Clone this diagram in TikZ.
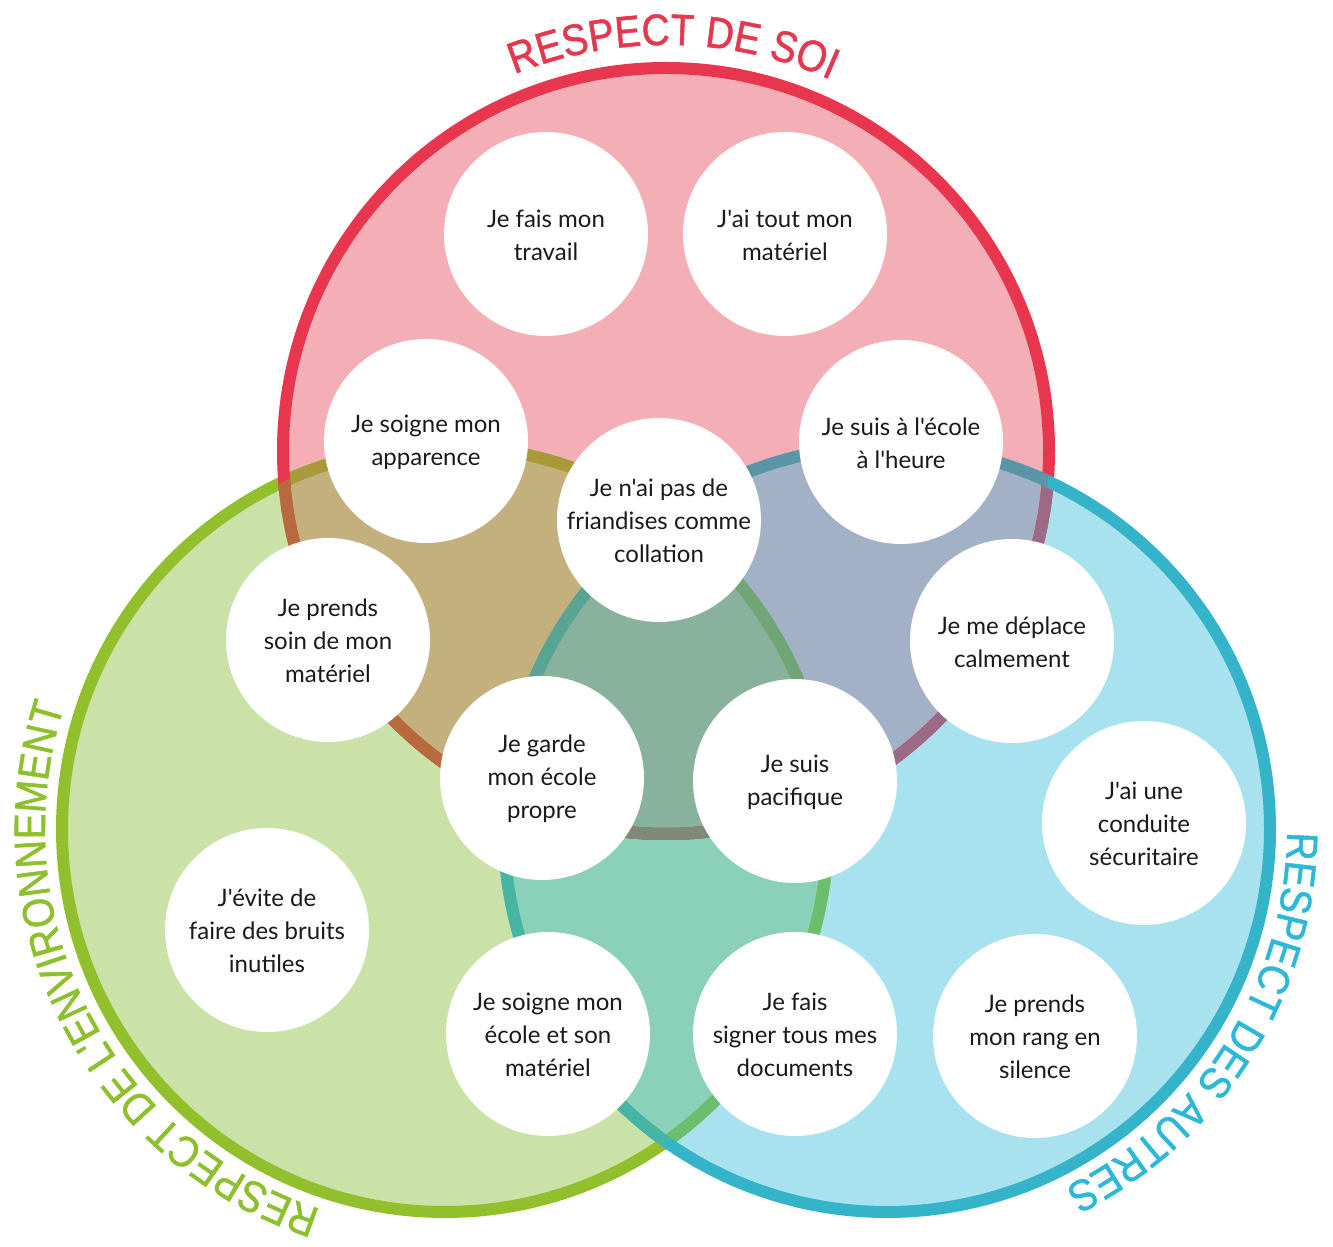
\documentclass[tikz,border=0pt]{standalone}
\usepackage{fontspec}
\usetikzlibrary{decorations.text,calc}
\newfontfamily\bodyfont{Lato}
\newfontfamily\titlefont[FakeStretch=0.88,FakeBold=1.2]{Liberation Sans}
\definecolor{pinkF}{RGB}{244,174,181}
\definecolor{greenF}{RGB}{202,226,168}
\definecolor{blueF}{RGB}{169,226,239}
\definecolor{rgF}{RGB}{196,176,124}
\definecolor{rbF}{RGB}{163,177,198}
\definecolor{gbF}{RGB}{139,209,186}
\definecolor{rgbF}{RGB}{136,178,158}
\definecolor{redS}{RGB}{232,54,78}
\definecolor{redInG}{RGB}{185,105,62}
\definecolor{redInB}{RGB}{155,106,133}
\definecolor{redInGB}{RGB}{127,137,117}
\definecolor{greenS}{RGB}{146,192,45}
\definecolor{greenInR}{RGB}{168,154,56}
\definecolor{greenInB}{RGB}{107,190,110}
\definecolor{greenInRB}{RGB}{112,165,118}
\definecolor{blueS}{RGB}{53,179,201}
\definecolor{blueInR}{RGB}{90,150,168}
\definecolor{blueInG}{RGB}{70,181,163}
\definecolor{blueInRG}{RGB}{88,165,148}
\definecolor{redT}{RGB}{229,56,79}
\definecolor{greenT}{RGB}{141,192,44}
\definecolor{blueT}{RGB}{45,184,218}
\definecolor{txtC}{RGB}{26,26,26}
\begin{document}
\begin{tikzpicture}[x=1pt,y=1pt,
  ring/.style={line width=12pt},
  bubble/.style={circle,fill=white,minimum size=204pt,inner sep=0pt},
  lbl/.style={align=center,text=txtC,font=\bodyfont\fontsize{24}{33}\selectfont,inner sep=0pt}]
\useasboundingbox (0,0) rectangle (1333,1247);
\def\rr{383}
\coordinate (R) at (666,796);
\coordinate (G) at (445,418);
\coordinate (B) at (887,418);
% fills
\fill[pinkF] (R) circle[radius=\rr];
\fill[greenF] (G) circle[radius=\rr];
\fill[blueF] (B) circle[radius=\rr];
\begin{scope}
  \clip (R) circle[radius=\rr];
  \fill[rgF] (G) circle[radius=\rr];
  \fill[rbF] (B) circle[radius=\rr];
\end{scope}
\begin{scope}
  \clip (G) circle[radius=\rr];
  \fill[gbF] (B) circle[radius=\rr];
\end{scope}
\begin{scope}
  \clip (R) circle[radius=\rr];
  \clip (G) circle[radius=\rr];
  \fill[rgbF] (B) circle[radius=\rr];
\end{scope}
% green ring
\draw[ring,greenS] (G) circle[radius=\rr];
\begin{scope}\clip (R) circle[radius=\rr]; \draw[ring,greenInR] (G) circle[radius=\rr];\end{scope}
\begin{scope}\clip (B) circle[radius=\rr]; \draw[ring,greenInB] (G) circle[radius=\rr];\end{scope}
\begin{scope}\clip (R) circle[radius=\rr]; \clip (B) circle[radius=\rr]; \draw[ring,greenInRB] (G) circle[radius=\rr];\end{scope}
% red ring
\draw[ring,redS] (R) circle[radius=\rr];
\begin{scope}\clip (G) circle[radius=\rr]; \draw[ring,redInG] (R) circle[radius=\rr];\end{scope}
\begin{scope}\clip (B) circle[radius=\rr]; \draw[ring,redInB] (R) circle[radius=\rr];\end{scope}
\begin{scope}\clip (G) circle[radius=\rr]; \clip (B) circle[radius=\rr]; \draw[ring,redInGB] (R) circle[radius=\rr];\end{scope}
% blue ring
\draw[ring,blueS] (B) circle[radius=\rr];
\begin{scope}\clip (R) circle[radius=\rr]; \draw[ring,blueInR] (B) circle[radius=\rr];\end{scope}
\begin{scope}\clip (G) circle[radius=\rr]; \draw[ring,blueInG] (B) circle[radius=\rr];\end{scope}
\begin{scope}\clip (R) circle[radius=\rr]; \clip (G) circle[radius=\rr]; \draw[ring,blueInRG] (B) circle[radius=\rr];\end{scope}
% titles
\path[decorate,decoration={text along path,text align=center,
  text={|\titlefont\fontsize{44}{44}\selectfont\color{redT}|RESPECT DE SOI}}]
  ($(R)+(149:406)$) arc[start angle=149,end angle=29,radius=406];
\path[decorate,decoration={text along path,text align=center,
  text={|\titlefont\fontsize{44}{44}\selectfont\color{blueT}|RESPECT DES AUTRES}}]
  ($(B)+(28:400)$) arc[start angle=28,end angle=-92,radius=400];
\path[decorate,decoration={text along path,text align=center,
  text={|\titlefont\fontsize{44}{44}\selectfont\color{greenT}|RESPECT DE L'ENVIRONNEMENT}}]
  ($(G)+(267:400)$) arc[start angle=267,end angle=147,radius=400];
% bubbles
\node[bubble] (b1) at (546,1013) {};
\node[bubble] (b2) at (785,1013) {};
\node[bubble] (b3) at (426,806) {};
\node[bubble] (b4) at (901,805) {};
\node[bubble] (b5) at (659,727) {};
\node[bubble] (b6) at (328,607) {};
\node[bubble] (b7) at (1012,606) {};
\node[bubble] (b8) at (542,469) {};
\node[bubble] (b9) at (795,466) {};
\node[bubble] (b10) at (1144,424) {};
\node[bubble] (b11) at (267,317) {};
\node[bubble] (b12) at (548,213) {};
\node[bubble] (b13) at (795,213) {};
\node[bubble] (b14) at (1035,211) {};
\node[lbl] (t1) at ([yshift=-1pt]b1.center) {Je fais mon\\travail};
\node[lbl] (t2) at ([yshift=-1pt]b2.center) {J'ai tout mon\\matériel};
\node[lbl] (t3) at ([yshift=-1pt]b3.center) {Je soigne mon\\apparence};
\node[lbl] (t4) at ([yshift=-1pt]b4.center) {Je suis à l'école\\à l'heure};
\node[lbl] (t5) at ([yshift=-1pt]b5.center) {Je n'ai pas de\\friandises comme\\collation};
\node[lbl] (t6) at ([yshift=-1pt]b6.center) {Je prends\\soin de mon\\matériel};
\node[lbl] (t7) at ([yshift=-1pt]b7.center) {Je me déplace\\calmement};
\node[lbl] (t8) at ([yshift=-1pt]b8.center) {Je garde\\mon école\\propre};
\node[lbl] (t9) at ([yshift=-1pt]b9.center) {Je suis\\pacifique};
\node[lbl] (t10) at ([yshift=-1pt]b10.center) {J'ai une\\conduite\\sécuritaire};
\node[lbl] (t11) at ([yshift=-1pt]b11.center) {J'évite de\\faire des bruits\\inutiles};
\node[lbl] (t12) at ([yshift=-1pt]b12.center) {Je soigne mon\\école et son\\matériel};
\node[lbl] (t13) at ([yshift=-1pt]b13.center) {Je fais\\signer tous mes\\documents};
\node[lbl] (t14) at ([yshift=-1pt]b14.center) {Je prends\\mon rang en\\silence};
\end{tikzpicture}
\end{document}
